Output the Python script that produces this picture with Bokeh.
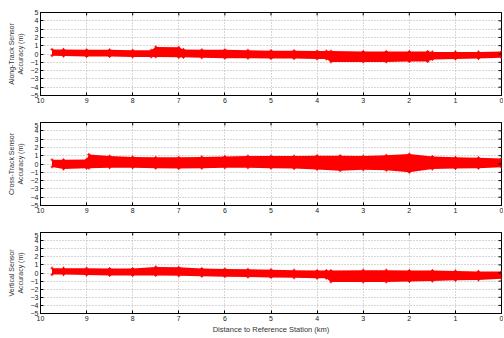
from bokeh.plotting import figure
from bokeh.layouts import column
from bokeh.models import FixedTicker, Range1d
from bokeh.embed import file_html
from bokeh.resources import INLINE

x_ticks = [0, 1, 2, 3, 4, 5, 6, 7, 8, 9, 10]
y_ticks = [-5, -4, -3, -2, -1, 0, 1, 2, 3, 4, 5]
x_title = "Distance to Reference Station (km)"

# Along-track band (envelope of the scatter), km / upper / lower in metres
at_km = [9.75, 9.5, 9.0, 8.5, 8.0, 7.6, 7.5, 7.0, 6.9, 6.5, 6.0, 5.5, 5.0, 4.5,
         4.0, 3.8, 3.7, 3.0, 2.5, 2.0, 1.6, 1.5, 1.0, 0.5, 0.0]
at_up = [0.55, 0.55, 0.5, 0.5, 0.45, 0.45, 0.85, 0.8, 0.55, 0.5, 0.5, 0.45, 0.4, 0.4,
         0.35, 0.35, 0.35, 0.3, 0.3, 0.3, 0.3, 0.25, 0.25, 0.25, 0.3]
at_lo = [-0.2, -0.25, -0.3, -0.3, -0.35, -0.35, -0.35, -0.4, -0.4, -0.45, -0.5, -0.5, -0.55, -0.55,
         -0.6, -0.6, -0.95, -0.95, -0.95, -0.9, -0.9, -0.65, -0.6, -0.55, -0.45]

# Cross-track band
ct_km = [9.75, 9.5, 9.0, 8.95, 8.5, 8.0, 7.5, 7.0, 6.5, 6.0, 5.5, 5.0, 4.5, 4.0,
         3.5, 3.0, 2.5, 2.0, 1.5, 1.0, 0.5, 0.0]
ct_up = [0.5, 0.5, 0.55, 1.15, 0.95, 0.85, 0.8, 0.8, 0.85, 0.9, 0.95, 0.95, 0.95, 1.0,
         1.0, 0.95, 1.05, 1.2, 0.9, 0.8, 0.75, 0.65]
ct_lo = [-0.35, -0.6, -0.5, -0.5, -0.45, -0.45, -0.5, -0.55, -0.5, -0.45, -0.45, -0.5, -0.55, -0.65,
         -0.8, -0.7, -0.75, -1.0, -0.6, -0.55, -0.5, -0.4]

# Vertical band
vt_km = [9.75, 9.5, 9.0, 8.5, 8.0, 7.5, 7.0, 6.5, 6.0, 5.5, 5.0, 4.5, 4.0, 3.8,
         3.7, 3.0, 2.5, 2.0, 1.5, 1.0, 0.5, 0.0]
vt_up = [0.6, 0.6, 0.6, 0.55, 0.55, 0.75, 0.7, 0.55, 0.5, 0.45, 0.4, 0.35, 0.3, 0.3,
         0.3, 0.35, 0.35, 0.3, 0.3, 0.25, 0.2, 0.2]
vt_lo = [-0.2, -0.2, -0.25, -0.3, -0.3, -0.3, -0.35, -0.4, -0.45, -0.5, -0.55, -0.6, -0.65, -0.65,
         -1.1, -1.1, -1.1, -1.05, -1.0, -0.9, -0.85, -0.7]

FONT = "Liberation Sans"
X_LO, X_HI = 10, 0
Y_LO, Y_HI = -5, 5


def panel(km, up, lo, ylabel, height, top, bottom, title=None):
    p = figure(width=503, height=height, x_range=Range1d(X_LO, X_HI), y_range=Range1d(Y_LO, Y_HI),
               output_backend="svg", toolbar_location=None,
               min_border_left=40, min_border_right=2, min_border_top=top,
               min_border_bottom=bottom)
    p.varea(x=km, y1=lo, y2=up, fill_color="#ff0000")
    p.scatter(km, up, marker="cross", size=3, line_color="#ff0000", line_width=1)
    p.scatter(km, lo, marker="cross", size=3, line_color="#ff0000", line_width=1)

    for ax in (p.xaxis[0], p.yaxis[0]):
        ax.major_tick_in = 3
        ax.major_tick_out = 0
        ax.minor_tick_line_color = None
        ax.major_label_text_font = FONT
        ax.major_label_text_font_size = "7px"
        ax.major_label_text_color = "#222222"
        ax.axis_line_color = "black"
    p.xaxis[0].ticker = FixedTicker(ticks=x_ticks)
    p.yaxis[0].ticker = FixedTicker(ticks=y_ticks)
    p.xaxis[0].major_label_standoff = 2
    p.yaxis[0].major_label_standoff = 2
    p.yaxis[0].axis_label = ylabel
    p.yaxis[0].axis_label_text_font = FONT
    p.yaxis[0].axis_label_text_font_size = "7px"
    p.yaxis[0].axis_label_text_font_style = "normal"
    p.yaxis[0].axis_label_text_color = "#333333"
    p.yaxis[0].axis_label_standoff = 4
    if title:
        p.xaxis[0].axis_label = title
        p.xaxis[0].axis_label_text_font = FONT
        p.xaxis[0].axis_label_text_font_size = "7.5px"
        p.xaxis[0].axis_label_text_font_style = "normal"
        p.xaxis[0].axis_label_text_color = "#333333"
        p.xaxis[0].axis_label_standoff = 1

    # inward ticks on the top and right edges (box on), as clipped dash markers
    p.scatter(x_ticks, [Y_HI] * len(x_ticks), marker="dash", angle=1.5708, size=6,
              line_color="black", line_width=1)
    p.scatter([X_HI] * len(y_ticks), y_ticks, marker="dash", size=6,
              line_color="black", line_width=1)

    p.xgrid.ticker = FixedTicker(ticks=x_ticks)
    p.ygrid.ticker = FixedTicker(ticks=y_ticks)
    for g in (p.xgrid[0], p.ygrid[0]):
        g.grid_line_color = "#b0b0b0"
        g.grid_line_dash = "1 2"
        g.grid_line_width = 1
    p.outline_line_color = "black"
    return p


p1 = panel(at_km, at_up, at_lo, "Along-Track Sensor\nAccuracy (m)", 122, 12, 27)
p2 = panel(ct_km, ct_up, ct_lo, "Cross-Track Sensor\nAccuracy (m)", 110, 0, 27)
p3 = panel(vt_km, vt_up, vt_lo, "Vertical Sensor\nAccuracy (m)", 104, 0, 21, x_title)

layout = column(p1, p2, p3)
open("out.html", "w").write(file_html(layout, INLINE))
